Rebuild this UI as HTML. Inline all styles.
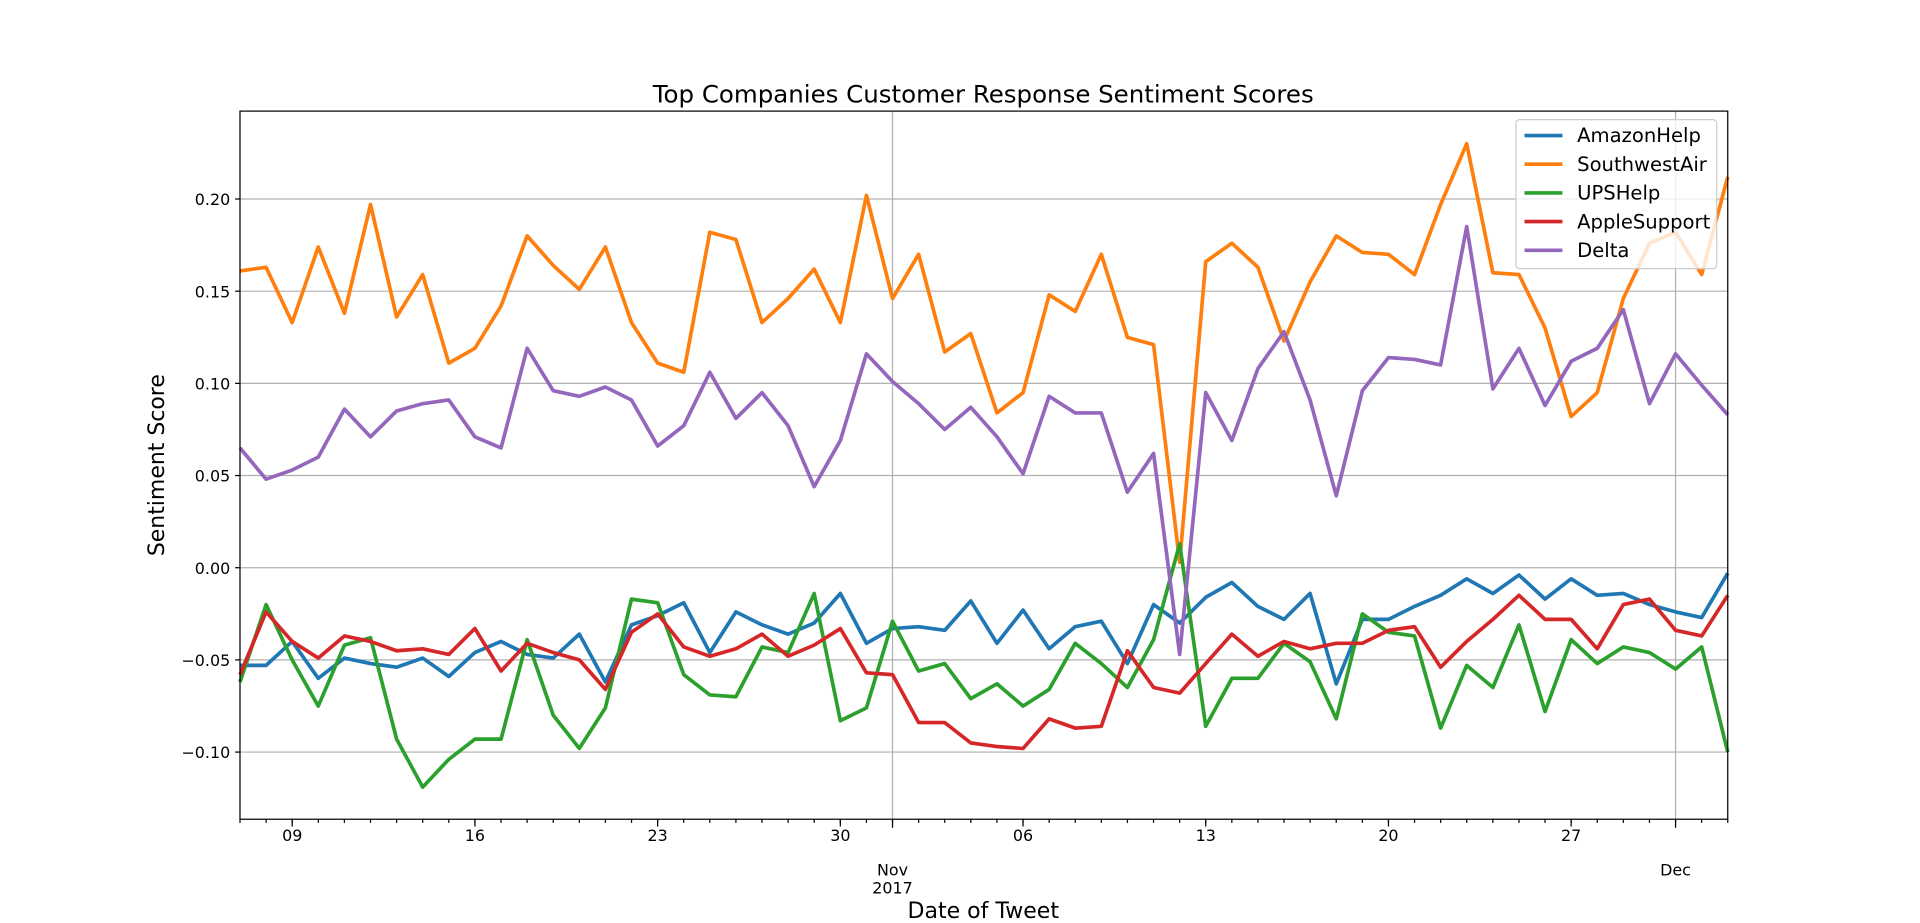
<!DOCTYPE html>
<html><head><meta charset="utf-8"><style>
html,body{margin:0;padding:0;background:#fff;}
svg{display:block;font-family:"DejaVu Sans","Liberation Sans",sans-serif;}
</style></head><body>
<svg id="chart" width="1920" height="923" viewBox="0 0 1568 756" preserveAspectRatio="none" xmlns="http://www.w3.org/2000/svg">
<text x="803" y="84" text-anchor="middle" font-size="20">Top Companies Customer Response Sentiment Scores</text>
<g id="grid"></g><g id="lines"></g><g id="axes"></g>
<text x="803" y="752" text-anchor="middle" font-size="18">Date of Tweet</text>
<text transform="translate(134,381) rotate(-90)" text-anchor="middle" font-size="18">Sentiment Score</text>
<g id="legend"></g>
</svg>
<script>
const seriesNames = ["AmazonHelp","SouthwestAir","UPSHelp","AppleSupport","Delta"];
const seriesColors = ["#1f77b4","#ff7f0e","#2ca02c","#d62728","#9467bd"];
const amazon = [-.053,-.053,-.040,-.060,-.049,-.052,-.054,-.049,-.059,-.046,-.040,-.047,-.049,-.036,-.062,-.031,-.026,-.019,-.046,-.024,-.031,-.036,-.030,-.014,-.041,-.033,-.032,-.034,-.018,-.041,-.023,-.044,-.032,-.029,-.052,-.020,-.030,-.016,-.008,-.021,-.028,-.014,-.063,-.028,-.028,-.021,-.015,-.006,-.014,-.004,-.017,-.006,-.015,-.014,-.020,-.024,-.027,-.003];
const southwest = [.161,.163,.133,.174,.138,.197,.136,.159,.111,.119,.142,.180,.164,.151,.174,.133,.111,.106,.182,.178,.133,.146,.162,.133,.202,.146,.170,.117,.127,.084,.095,.148,.139,.170,.125,.121,.003,.166,.176,.163,.123,.155,.180,.171,.170,.159,.197,.230,.160,.159,.130,.082,.095,.146,.176,.182,.159,.212];
const ups = [-.062,-.020,-.050,-.075,-.042,-.038,-.093,-.119,-.104,-.093,-.093,-.039,-.080,-.098,-.076,-.017,-.019,-.058,-.069,-.070,-.043,-.046,-.014,-.083,-.076,-.029,-.056,-.052,-.071,-.063,-.075,-.066,-.041,-.052,-.065,-.039,.013,-.086,-.060,-.060,-.041,-.051,-.082,-.025,-.035,-.037,-.087,-.053,-.065,-.031,-.078,-.039,-.052,-.043,-.046,-.055,-.043,-.100];
const apple = [-.058,-.024,-.040,-.049,-.037,-.040,-.045,-.044,-.047,-.033,-.056,-.041,-.046,-.050,-.066,-.035,-.025,-.043,-.048,-.044,-.036,-.048,-.042,-.033,-.057,-.058,-.084,-.084,-.095,-.097,-.098,-.082,-.087,-.086,-.045,-.065,-.068,-.052,-.036,-.048,-.040,-.044,-.041,-.041,-.034,-.032,-.054,-.040,-.028,-.015,-.028,-.028,-.044,-.020,-.017,-.034,-.037,-.015];
const delta = [.065,.048,.053,.060,.086,.071,.085,.089,.091,.071,.065,.119,.096,.093,.098,.091,.066,.077,.106,.081,.095,.077,.044,.069,.116,.101,.089,.075,.087,.071,.051,.093,.084,.084,.041,.062,-.047,.095,.069,.108,.128,.091,.039,.096,.114,.113,.110,.185,.097,.119,.088,.112,.119,.140,.089,.116,.099,.083];
const yTicks = [-0.10,-0.05,0.00,0.05,0.10,0.15,0.20];
const yTickLabels = ["\u22120.10","\u22120.05","0.00","0.05","0.10","0.15","0.20"];
const xTickDays = [2,9,16,23,30,37,44,51];
const xTickLabels = ["09","16","23","30","06","13","20","27"];
const monthTickDays = [25,55];
const monthTickLabels = [["Nov","2017"],["Dec"]];

const NS="http://www.w3.org/2000/svg";
const L=196,R=1411,T=91,B=671;
const nDays=57;
function xs(d){return L+(R-L)*d/nDays;}
function ys(v){return 465-v*1510;}
function mk(tag,attrs,parent){const e=document.createElementNS(NS,tag);for(const k in attrs)e.setAttribute(k,attrs[k]);parent.appendChild(e);return e;}
const grid=document.getElementById('grid'),lines=document.getElementById('lines'),axes=document.getElementById('axes'),legend=document.getElementById('legend');
yTicks.forEach((v,i)=>{
  const g=mk('line',{x1:L,x2:R,y1:ys(v),y2:ys(v),stroke:'#b0b0b0','stroke-width':1},grid);
  
  
  mk('line',{x1:L-4,x2:L,y1:ys(v),y2:ys(v),stroke:'#000'},axes);
  const t=mk('text',{x:L-8,y:ys(v)+5,'text-anchor':'end','font-size':13},axes);
  t.textContent=yTickLabels[i];
  
  
});
monthTickDays.forEach((d,i)=>{
  const g=mk('line',{x1:xs(d),x2:xs(d),y1:T,y2:B,stroke:'#b0b0b0','stroke-width':1},grid);
  
  
  mk('line',{x1:xs(d),x2:xs(d),y1:B,y2:B+7,stroke:'#000'},axes);
  monthTickLabels[i].forEach((s,j)=>{
    const t=mk('text',{x:xs(d),y:717+j*15,'text-anchor':'middle','font-size':13},axes);
    t.textContent=s;
    
    
  });
});
for(let d=0;d<=nDays;d++){mk('line',{x1:xs(d),x2:xs(d),y1:B,y2:B+3,stroke:'#000'},axes);}
xTickDays.forEach((d,i)=>{
  mk('line',{x1:xs(d),x2:xs(d),y1:B,y2:B+6,stroke:'#000'},axes);
  const t=mk('text',{x:xs(d),y:689,'text-anchor':'middle','font-size':13},axes);
  t.textContent=xTickLabels[i];
  
  
});
const frame=mk('rect',{x:L,y:T,width:R-L,height:B-T,fill:'none',stroke:'#000','stroke-width':1},axes);


const allSeries=[amazon,southwest,ups,apple,delta];
allSeries.forEach((vals,s)=>{
  const pts=vals.map((v,i)=>xs(i).toFixed(1)+','+ys(v).toFixed(1)).join(' ');
  const p=mk('polyline',{points:pts,fill:'none',stroke:seriesColors[s],'stroke-width':3,'stroke-linejoin':'round'},lines);
  
  
});
const lb=mk('rect',{x:1238,y:98,width:164,height:122,rx:3,fill:'#fff','fill-opacity':0.8,stroke:'#ccc'},legend);


seriesNames.forEach((n,i)=>{
  const y=111+i*23.5;
  const g=mk('g',{},legend);
  
  
  mk('line',{x1:1245,x2:1276,y1:y,y2:y,stroke:seriesColors[i],'stroke-width':3},g);
  const t=mk('text',{x:1288,y:y+5.5,'font-size':16},g);
  t.textContent=n;
});
</script>
</body></html>
